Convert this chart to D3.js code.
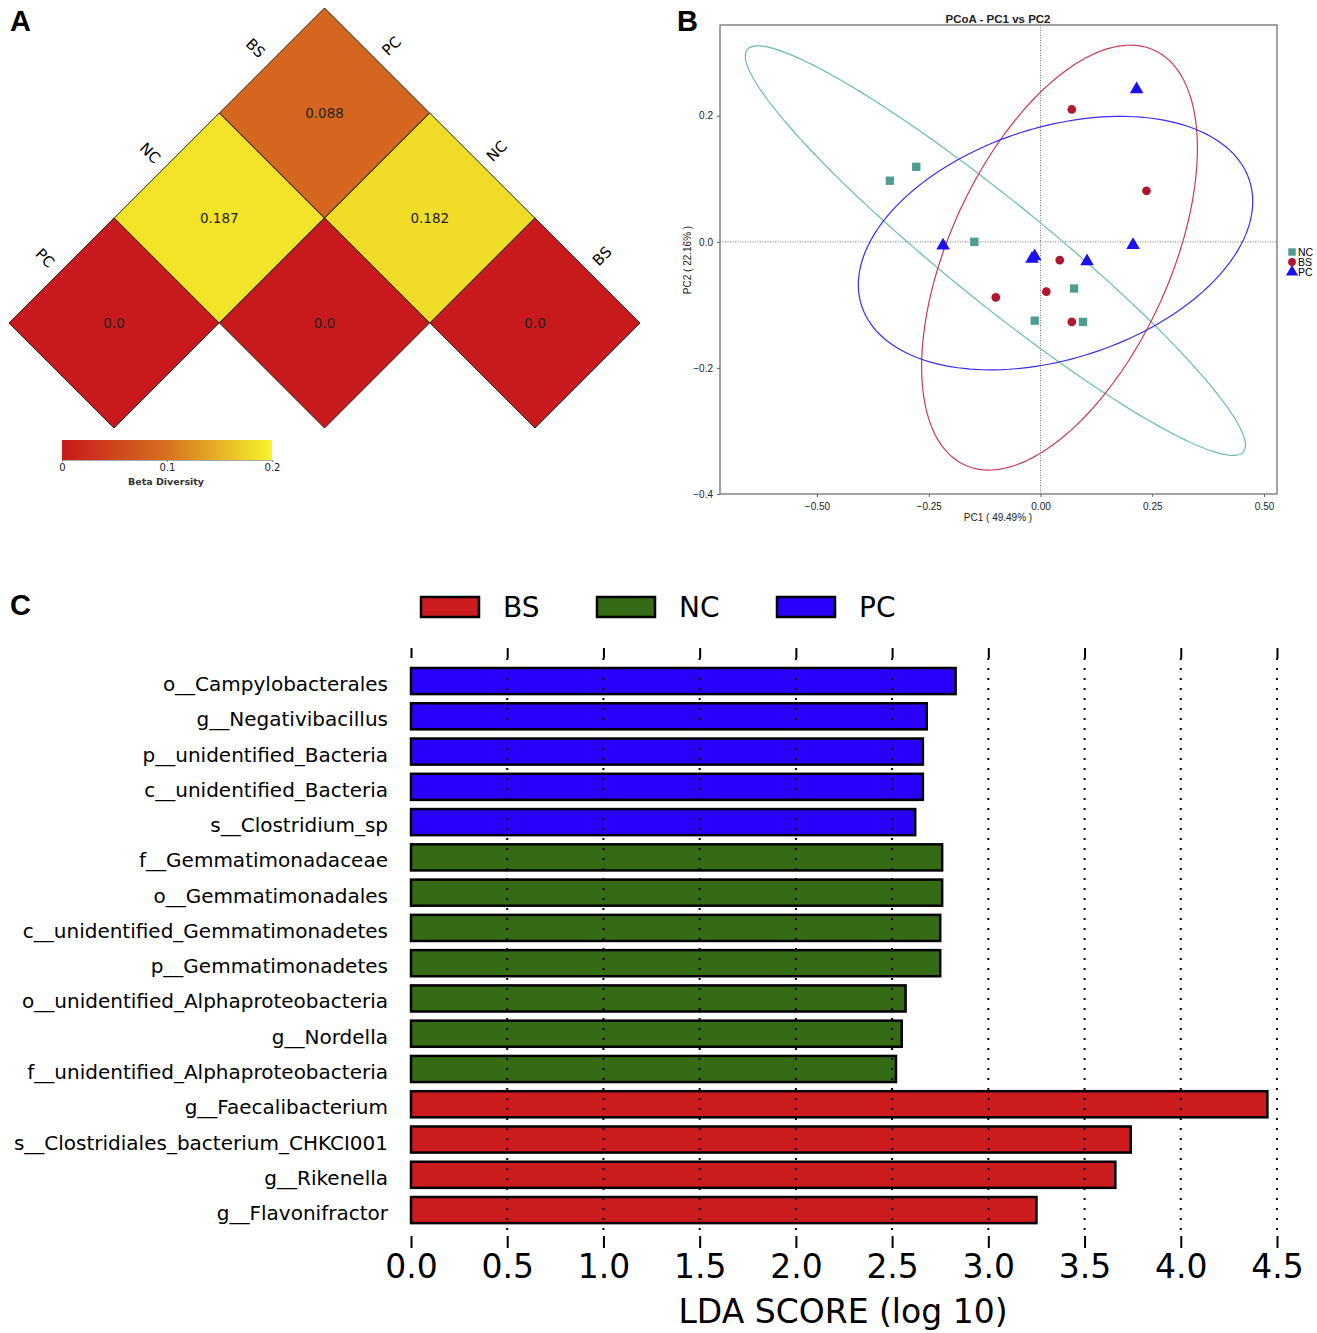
<!DOCTYPE html>
<html>
<head>
<meta charset="utf-8">
<script src="https://cdn.jsdelivr.net/npm/d3@7"></script>
<style>
  body { margin: 0; background: #fff; }
  svg { display: block; }
</style>
</head>
<body>
<div id="chart"></div>
<script>
// ---- data ----
// panel A: beta diversity between groups
var groups = ["PC", "NC", "BS"];
var betaValues = [
  [0.0, 0.187, 0.088],
  [0.187, 0.0, 0.182],
  [0.088, 0.182, 0.0]
];
var betaTicks = [0, 0.1, 0.2];

// panel B: PCoA sample coordinates
var pcoaGroups = ["NC", "BS", "PC"];
var ncPC1 = [-0.337, -0.278, -0.148, 0.075, -0.013, 0.095];
var ncPC2 = [0.097, 0.119, 0.0, -0.074, -0.125, -0.127];
var bsPC1 = [0.070, 0.237, 0.043, 0.013, -0.100, 0.070];
var bsPC2 = [0.210, 0.081, -0.029, -0.079, -0.088, -0.127];
var pcPC1 = [0.215, 0.207, -0.218, -0.013, -0.019, 0.104];
var pcPC2 = [0.242, -0.005, -0.006, -0.023, -0.027, -0.031];
// confidence ellipses: centre, major semi-axis vector, minor semi-axis vector (data units)
var ellipseCentre = [[-0.101, -0.014], [0.0425, -0.025], [0.0336, -0.002]];
var ellipseMajor = [[0.555, -0.319], [0.212, 0.329], [0.434, 0.099]];
var ellipseMinor = [[-0.0705, -0.0617], [0.224, -0.073], [0.079, -0.175]];
var pcoaXTicks = [-0.5, -0.25, 0, 0.25, 0.5];
var pcoaYTicks = [-0.4, -0.2, 0, 0.2];

// panel C: LEfSe LDA scores
var taxa = [
  "o__Campylobacterales", "g__Negativibacillus", "p__unidentified_Bacteria",
  "c__unidentified_Bacteria", "s__Clostridium_sp", "f__Gemmatimonadaceae",
  "o__Gemmatimonadales", "c__unidentified_Gemmatimonadetes", "p__Gemmatimonadetes",
  "o__unidentified_Alphaproteobacteria", "g__Nordella", "f__unidentified_Alphaproteobacteria",
  "g__Faecalibacterium", "s__Clostridiales_bacterium_CHKCI001", "g__Rikenella",
  "g__Flavonifractor"
];
var ldaScores = [2.83, 2.68, 2.66, 2.66, 2.62, 2.76, 2.76, 2.75, 2.75, 2.57, 2.55, 2.52,
  4.45, 3.74, 3.66, 3.25];
var taxaGroup = ["PC", "PC", "PC", "PC", "PC", "NC", "NC", "NC", "NC", "NC", "NC", "NC",
  "BS", "BS", "BS", "BS"];
var ldaLegend = ["BS", "NC", "PC"];
var ldaTicks = [0, 0.5, 1, 1.5, 2, 2.5, 3, 3.5, 4, 4.5];

var svg = d3.select("#chart")
  .append("svg")
  .attr("width", 1317)
  .attr("height", 1333);

// panel letters
[["A", 10, 31], ["B", 677, 31], ["C", 10, 615]].forEach(function(p) {
  svg.append("text")
    .attr("x", p[1]).attr("y", p[2])
    .attr("font-family", "Liberation Sans, Arial, sans-serif")
    .attr("font-weight", "bold")
    .attr("font-size", "29px")
    .text(p[0]);
});

// ================= Panel A =================
var betaColor = d3.scaleLinear()
  .domain([0, 0.1, 0.2])
  .range(["#c8191c", "#d6711f", "#f7f52a"]);

var diagX = d3.scaleLinear().domain([0, 4]).range([114, 535]);
var diagY = d3.scaleLinear().domain([0, 2]).range([323, 113]);
var half = 105;

var cells = [];
for (var i = 0; i < groups.length; i++) {
  for (var j = i; j < groups.length; j++) {
    cells.push({ i: i, j: j, v: betaValues[i][j] });
  }
}

var gA = svg.append("g");
gA.selectAll("path.cell")
  .data(cells)
  .enter()
  .append("path")
  .attr("class", "cell")
  .attr("d", function(d) {
    var cx = diagX(d.i + d.j), cy = diagY(d.j - d.i);
    return "M" + (cx - half) + "," + cy + "L" + cx + "," + (cy - half) +
      "L" + (cx + half) + "," + cy + "L" + cx + "," + (cy + half) + "Z";
  })
  .attr("fill", function(d) { return betaColor(d.v); })
  .attr("stroke", "#222")
  .attr("stroke-width", 1);

gA.selectAll("text.val")
  .data(cells)
  .enter()
  .append("text")
  .attr("class", "val")
  .attr("x", function(d) { return diagX(d.i + d.j); })
  .attr("y", function(d) { return diagY(d.j - d.i) + 5; })
  .attr("text-anchor", "middle")
  .attr("font-family", "DejaVu Sans, sans-serif")
  .attr("font-size", "13.5px")
  .attr("fill", "#222")
  .text(function(d) { return d.v === 0 ? "0.0" : d3.format(".3f")(d.v); });

// left labels (columns, upper-left edges) and right labels (rows, upper-right edges)
groups.forEach(function(g, k) {
  var cx = diagX(k) - 69, cy = diagY(k) - 65;
  gA.append("text")
    .attr("transform", "translate(" + cx + "," + cy + ") rotate(45)")
    .attr("text-anchor", "middle")
    .attr("dy", "0.35em")
    .attr("font-family", "DejaVu Sans, sans-serif")
    .attr("font-size", "15px")
    .text(g);
  var rx = diagX(k + 2) + 67, ry = diagY(2 - k) - 67;
  gA.append("text")
    .attr("transform", "translate(" + rx + "," + ry + ") rotate(-45)")
    .attr("text-anchor", "middle")
    .attr("dy", "0.35em")
    .attr("font-family", "DejaVu Sans, sans-serif")
    .attr("font-size", "15px")
    .text(g);
});

// colour bar
var defs = svg.append("defs");
var grad = defs.append("linearGradient").attr("id", "betaGrad");
d3.range(0, 1.0001, 0.1).forEach(function(t) {
  grad.append("stop")
    .attr("offset", (t * 100) + "%")
    .attr("stop-color", betaColor(t * 0.2));
});
var barScale = d3.scaleLinear().domain([0, 0.2]).range([62, 272]);
gA.append("rect")
  .attr("x", 62).attr("y", 440)
  .attr("width", 210).attr("height", 20)
  .attr("fill", "url(#betaGrad)");
gA.append("g")
  .attr("transform", "translate(0,460)")
  .call(d3.axisBottom(barScale).tickValues(betaTicks).tickSize(2).tickPadding(2)
    .tickFormat(function(d) { return d === 0 ? "0" : d3.format(".1f")(d); }))
  .call(function(g) { g.select(".domain").attr("stroke", "#aaa"); })
  .call(function(g) {
    g.selectAll("line").attr("stroke", "#888");
    g.selectAll("text").attr("font-family", "DejaVu Sans, sans-serif")
      .attr("font-size", "10px").attr("fill", "#222");
  });
gA.append("text")
  .attr("x", 166).attr("y", 485)
  .attr("text-anchor", "middle")
  .attr("font-family", "DejaVu Sans, sans-serif")
  .attr("font-size", "9.5px")
  .attr("font-weight", "bold")
  .attr("fill", "#333")
  .text("Beta Diversity");

// ================= Panel B =================
var xB = d3.scaleLinear().domain([-0.717, 0.529]).range([720, 1277]);
var yB = d3.scaleLinear().domain([-0.4, 0.344]).range([494, 25]);
var gB = svg.append("g");
var fontB = "Liberation Sans, Arial, sans-serif";

gB.append("text")
  .attr("x", 998).attr("y", 23)
  .attr("text-anchor", "middle")
  .attr("font-family", fontB)
  .attr("font-weight", "bold")
  .attr("font-size", "11.5px")
  .attr("fill", "#222")
  .text("PCoA - PC1 vs PC2");

// zero lines
gB.append("line")
  .attr("x1", xB(0)).attr("x2", xB(0))
  .attr("y1", yB(0.344)).attr("y2", yB(-0.4))
  .attr("stroke", "#777").attr("stroke-dasharray", "1,1.5");
gB.append("line")
  .attr("x1", xB(-0.717)).attr("x2", xB(0.529))
  .attr("y1", yB(0)).attr("y2", yB(0))
  .attr("stroke", "#777").attr("stroke-dasharray", "1,1.5");

var ellipseColors = ["#6cbcae", "#c63c58", "#3a2cf2"];
var line = d3.line();
ellipseCentre.forEach(function(c, k) {
  var a = ellipseMajor[k], b = ellipseMinor[k];
  var pts = d3.range(0, 2 * Math.PI + 0.001, Math.PI / 90).map(function(t) {
    return [xB(c[0] + a[0] * Math.cos(t) + b[0] * Math.sin(t)),
            yB(c[1] + a[1] * Math.cos(t) + b[1] * Math.sin(t))];
  });
  gB.append("path")
    .attr("d", line(pts))
    .attr("fill", "none")
    .attr("stroke", ellipseColors[k])
    .attr("stroke-width", 1.2);
});

var pointColors = { NC: "#4e9e90", BS: "#b01830", PC: "#1a10f0" };
var pointShapes = { NC: d3.symbolSquare, BS: d3.symbolCircle, PC: d3.symbolTriangle };
var pointSizes = { NC: 70, BS: 60, PC: 80 };
var samples = [];
ncPC1.forEach(function(v, k) { samples.push({ g: "NC", x: v, y: ncPC2[k] }); });
bsPC1.forEach(function(v, k) { samples.push({ g: "BS", x: v, y: bsPC2[k] }); });
pcPC1.forEach(function(v, k) { samples.push({ g: "PC", x: v, y: pcPC2[k] }); });

gB.selectAll("path.pt")
  .data(samples)
  .enter()
  .append("path")
  .attr("class", "pt")
  .attr("transform", function(d) { return "translate(" + xB(d.x) + "," + yB(d.y) + ")"; })
  .attr("d", function(d) { return d3.symbol().type(pointShapes[d.g]).size(pointSizes[d.g])(); })
  .attr("fill", function(d) { return pointColors[d.g]; });

// frame and axes
gB.append("rect")
  .attr("x", 720).attr("y", 25)
  .attr("width", 557).attr("height", 469)
  .attr("fill", "none").attr("stroke", "#666").attr("stroke-width", 1.2);
gB.append("g")
  .attr("transform", "translate(720,0)")
  .call(d3.axisLeft(yB).tickValues(pcoaYTicks).tickSize(3).tickPadding(4)
    .tickFormat(d3.format(".1f")))
  .call(function(g) { g.select(".domain").remove(); })
  .call(function(g) {
    g.selectAll("line").attr("stroke", "#666");
    g.selectAll("text").attr("font-family", fontB).attr("font-size", "10px").attr("fill", "#222");
  });
gB.append("g")
  .attr("transform", "translate(0,494)")
  .call(d3.axisBottom(xB).tickValues(pcoaXTicks).tickSize(3).tickPadding(6)
    .tickFormat(d3.format(".2f")))
  .call(function(g) { g.select(".domain").remove(); })
  .call(function(g) {
    g.selectAll("line").attr("stroke", "#666");
    g.selectAll("text").attr("font-family", fontB).attr("font-size", "10px").attr("fill", "#222");
  });
gB.append("text")
  .attr("x", 998).attr("y", 521)
  .attr("text-anchor", "middle")
  .attr("font-family", fontB).attr("font-size", "10px").attr("fill", "#222")
  .text("PC1 ( 49.49% )");
gB.append("text")
  .attr("transform", "translate(691,260) rotate(-90)")
  .attr("text-anchor", "middle")
  .attr("font-family", fontB).attr("font-size", "10px").attr("fill", "#222")
  .text("PC2 ( 22.16% )");

// legend B
pcoaGroups.forEach(function(g, k) {
  var ly = 252 + k * 10;
  gB.append("path")
    .attr("transform", "translate(1292," + ly + ")")
    .attr("d", d3.symbol().type(pointShapes[g]).size(pointSizes[g] * 0.8)())
    .attr("fill", pointColors[g]);
  gB.append("text")
    .attr("x", 1298).attr("y", ly + 4)
    .attr("font-family", fontB).attr("font-size", "10.5px")
    .text(g);
});

// ================= Panel C =================
var fontC = "DejaVu Sans, sans-serif";
var xC = d3.scaleLinear().domain([0, 4.5]).range([411, 1277]);
var yC = d3.scaleBand().domain(taxa).range([663.4, 1227.7])
  .paddingInner(0.26).paddingOuter(0.13);
var barColors = { BS: "#cc1b1f", NC: "#356b15", PC: "#2a00fb" };
var gC = svg.append("g");

gC.selectAll("rect.bar")
  .data(taxa)
  .enter()
  .append("rect")
  .attr("class", "bar")
  .attr("x", xC(0))
  .attr("y", function(d) { return yC(d); })
  .attr("width", function(d, k) { return xC(ldaScores[k]) - xC(0); })
  .attr("height", yC.bandwidth())
  .attr("fill", function(d, k) { return barColors[taxaGroup[k]]; })
  .attr("stroke", "#000")
  .attr("stroke-width", 2.5);

// dotted grid drawn over bars
gC.selectAll("line.grid")
  .data(ldaTicks.slice(1))
  .enter()
  .append("line")
  .attr("class", "grid")
  .attr("x1", function(d) { return xC(d); })
  .attr("x2", function(d) { return xC(d); })
  .attr("y1", 658).attr("y2", 1236)
  .attr("stroke", "#000")
  .attr("stroke-width", 2)
  .attr("stroke-dasharray", "2,8");

gC.append("g")
  .attr("transform", "translate(0,658)")
  .call(d3.axisTop(xC).tickValues(ldaTicks).tickSize(10).tickFormat(""))
  .call(function(g) { g.select(".domain").remove(); })
  .call(function(g) { g.selectAll("line").attr("stroke-width", 2); });

gC.append("g")
  .attr("transform", "translate(0,1236)")
  .call(d3.axisBottom(xC).tickValues(ldaTicks).tickSize(12).tickPadding(7)
    .tickFormat(d3.format(".1f")))
  .call(function(g) { g.select(".domain").remove(); })
  .call(function(g) {
    g.selectAll("line").attr("stroke-width", 2);
    g.selectAll("text").attr("font-family", fontC).attr("font-size", "33px").attr("fill", "#000");
  });

gC.append("text")
  .attr("x", 843).attr("y", 1323)
  .attr("text-anchor", "middle")
  .attr("font-family", fontC)
  .attr("font-size", "33px")
  .text("LDA SCORE (log 10)");

gC.selectAll("text.taxon")
  .data(taxa)
  .enter()
  .append("text")
  .attr("class", "taxon")
  .attr("x", 388)
  .attr("y", function(d) { return yC(d) + yC.bandwidth() / 2 + 3; })
  .attr("dy", "0.35em")
  .attr("text-anchor", "end")
  .attr("font-family", fontC)
  .attr("font-size", "20px")
  .text(function(d) { return d; });

// legend C
var legendX = [421, 597, 777];
ldaLegend.forEach(function(g, k) {
  gC.append("rect")
    .attr("x", legendX[k]).attr("y", 597)
    .attr("width", 58).attr("height", 20)
    .attr("fill", barColors[g])
    .attr("stroke", "#000").attr("stroke-width", 2.5);
  gC.append("text")
    .attr("x", legendX[k] + 82).attr("y", 607)
    .attr("dy", "0.36em")
    .attr("font-family", fontC)
    .attr("font-size", "28px")
    .text(g);
});
</script>
</body>
</html>
